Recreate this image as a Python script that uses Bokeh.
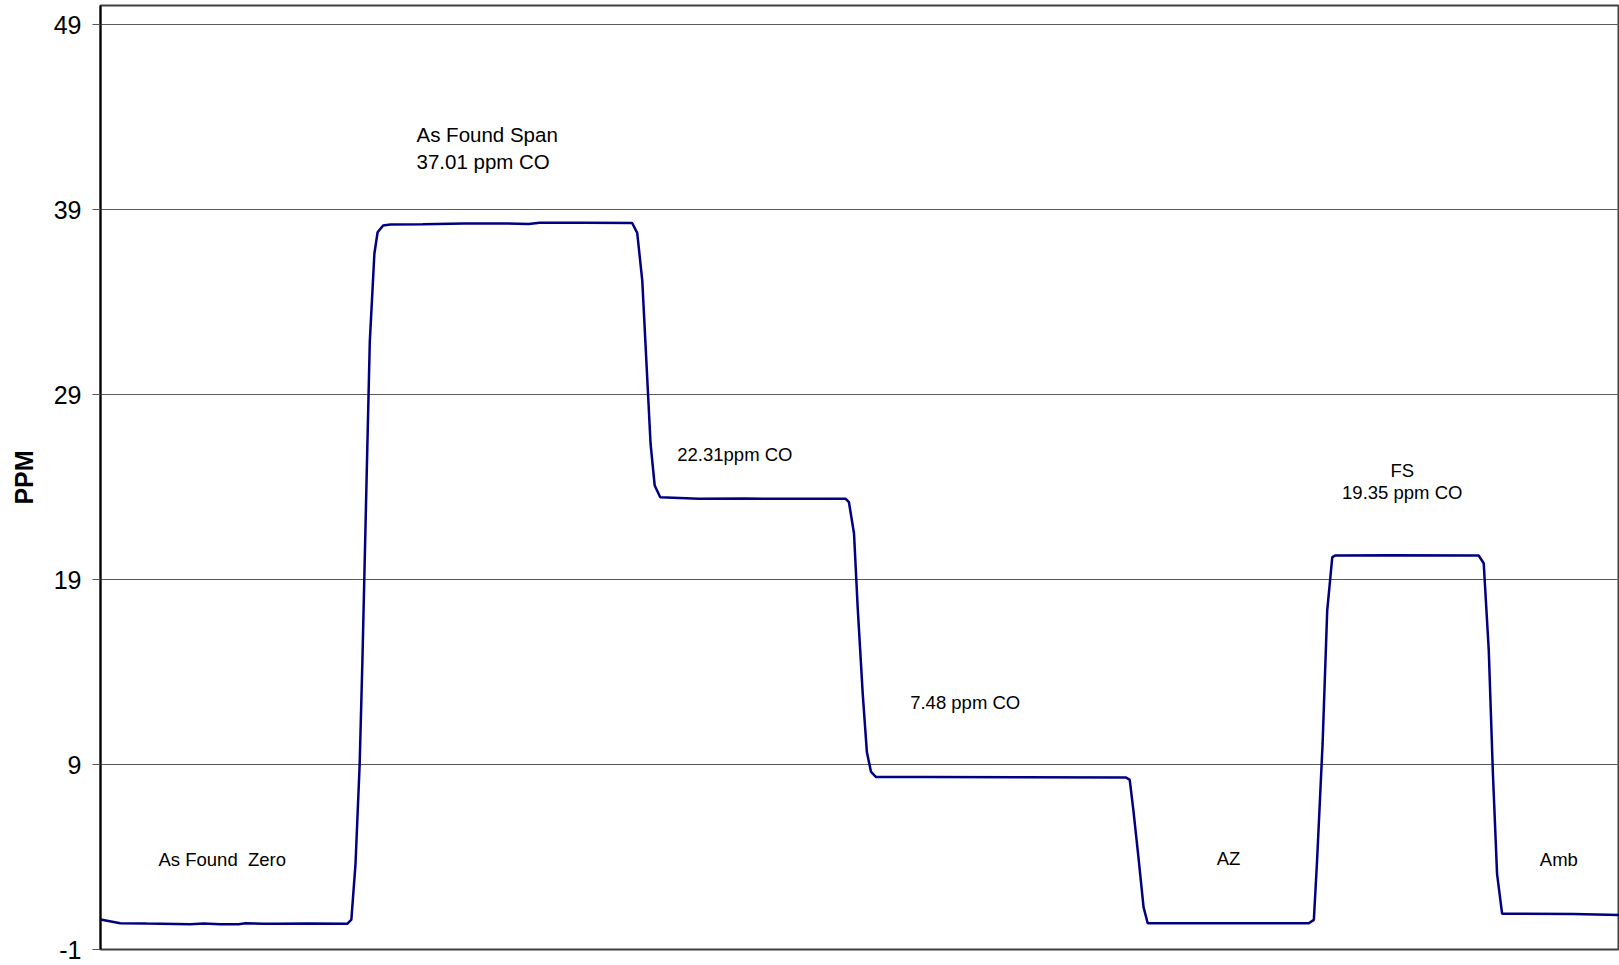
from bokeh.plotting import figure
from bokeh.models import Range1d, Label, FixedTicker
from bokeh.embed import file_html
from bokeh.resources import INLINE

# ---- data (sample index vs PPM CO) ----
sample = [0, 4.3, 10, 19.5, 22.4, 26, 30, 31.5, 35.4, 38.4, 45, 53.6,
          54.5, 55.4, 56.3, 56.9, 57.8, 58.5, 59.5, 60.2, 61.4, 63.0,
          70, 79, 87, 93, 95.4, 105, 115.5,
          116.6, 117.7, 119.5, 120.4, 121.6,
          130, 140, 150, 161.9,
          162.6, 163.7, 164.5, 165.6, 166.5, 167.4, 168.5,
          180, 200, 222.8,
          223.6, 224.4, 225.5, 226.6, 227.5,
          245, 262.5,
          263.6, 264.3, 265.5, 266.5, 267.6, 268.3,
          280, 299.4,
          300.5, 301.6, 302.5, 303.4, 304.5, 305.6,
          320, 330]
ppm = [0.62, 0.42, 0.40, 0.37, 0.40, 0.37, 0.37, 0.42, 0.39, 0.39, 0.41, 0.39,
       0.61, 3.63, 9.00, 14.62, 24.35, 31.83, 36.61, 37.77, 38.14, 38.19,
       38.20, 38.24, 38.25, 38.22, 38.28, 38.28, 38.27,
       37.74, 35.16, 26.34, 24.08, 23.45,
       23.36, 23.38, 23.36, 23.36,
       23.18, 21.49, 17.48, 12.79, 9.66, 8.60, 8.32,
       8.32, 8.31, 8.30,
       8.17, 6.51, 3.97, 1.29, 0.42,
       0.42, 0.42,
       0.60, 3.81, 10.14, 17.32, 20.21, 20.30,
       20.31, 20.30,
       19.88, 15.16, 8.50, 3.09, 0.93, 0.93,
       0.92, 0.87]

y_ticks = [-1, 9, 19, 29, 39, 49]
y_tick_labels = ["-1", "9", "19", "29", "39", "49"]
y_label = "PPM"

notes = ["As Found Span", "37.01 ppm CO", "22.31ppm CO", "7.48 ppm CO",
         "As Found\u00a0 Zero", "AZ", "FS", "19.35 ppm CO", "Amb"]

# annotation placement (layout only)
note_x = [68.65, 68.65, 125.3, 175.9, 12.6, 242.5, 282.8, 282.8, 312.7]
note_y = [43.05, 41.6, 25.76, 12.35, 3.86, 3.9, 24.89, 23.68, 3.86]
note_size = ["20.5px", "20.5px", "18.5px", "18.5px", "18.5px", "18.5px",
             "18.5px", "18.5px", "18.5px"]
note_align = ["left", "left", "left", "left", "left", "left",
              "center", "center", "left"]

FONT = "Liberation Sans"

p = figure(width=1619, height=965, output_backend="svg", toolbar_location=None,
           x_range=Range1d(0, 330), y_range=Range1d(-1, 50.03),
           min_border_left=100, min_border_right=0, min_border_top=5,
           min_border_bottom=16)

p.background_fill_color = "white"
p.border_fill_color = "white"
p.outline_line_color = "#404040"
p.outline_line_width = 2

p.xaxis.visible = False
p.xgrid.visible = False

p.yaxis.ticker = FixedTicker(ticks=y_ticks)
p.yaxis.major_label_overrides = {t: s for t, s in zip(y_ticks, y_tick_labels)}
p.yaxis.axis_line_color = "black"
p.yaxis.axis_line_width = 2
p.yaxis.major_tick_line_color = "#555555"
p.yaxis.major_tick_out = 8
p.yaxis.major_tick_in = 0
p.yaxis.minor_tick_line_color = None
p.yaxis.major_label_text_font = FONT
p.yaxis.major_label_text_font_size = "25px"
p.yaxis.major_label_text_color = "black"
p.yaxis.major_label_standoff = 11
p.yaxis.axis_label = y_label
p.yaxis.axis_label_text_font = FONT
p.yaxis.axis_label_text_font_size = "25px"
p.yaxis.axis_label_text_font_style = "bold"
p.yaxis.axis_label_text_color = "black"
p.yaxis.axis_label_standoff = 13

p.ygrid.ticker = FixedTicker(ticks=y_ticks)
p.ygrid.grid_line_color = "#5a5a5a"
p.ygrid.grid_line_width = 1

p.line(sample, ppm, line_color="#000080", line_width=2.5)

for t, x, y, s, a in zip(notes, note_x, note_y, note_size, note_align):
    p.add_layout(Label(x=x, y=y, text=t, text_font=FONT, text_font_size=s,
                       text_color="black", text_baseline="middle", text_align=a))

open("out.html", "w").write(file_html(p, INLINE))
